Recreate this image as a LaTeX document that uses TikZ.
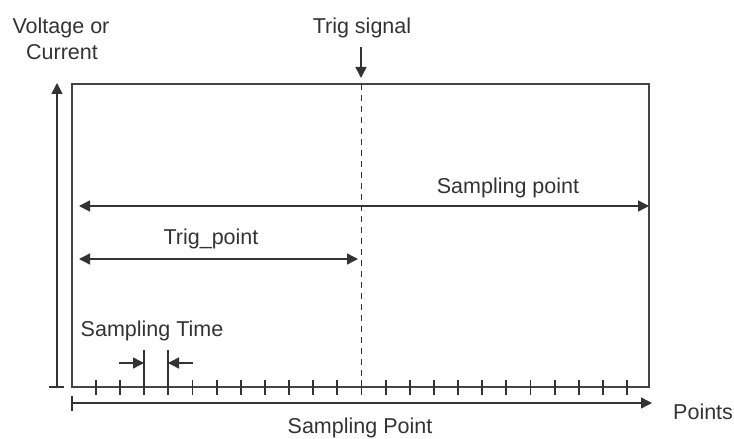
\documentclass[tikz,border=0pt]{standalone}
\usepackage{fontspec}
\setmainfont{Liberation Sans}
\usetikzlibrary{arrows.meta}
\definecolor{ink}{HTML}{333333}
\definecolor{boxc}{HTML}{444444}
\tikzset{
  lbl/.style={inner sep=0pt, anchor=base, text=ink, font=\fontsize{21.5bp}{26bp}\selectfont},
  frame/.style={draw=boxc, line width=1.4bp},
  conn/.style={draw=ink, line width=1.4bp},
  tip/.style={-{Triangle[length=11bp,width=11bp]}},
  dtip/.style={{Triangle[length=11bp,width=11bp]}-{Triangle[length=11bp,width=11bp]}},
  tick/.style={draw=ink, line width=1.9bp},
  trigline/.style={draw=ink, line width=1bp, dash pattern=on 6bp off 5bp},
}
\begin{document}
\begin{tikzpicture}[x=1bp,y=-1bp]
\useasboundingbox (0,0) rectangle (734,439);
% frame
\coordinate (TL) at (72,84);
\coordinate (BR) at (649,387);
\draw[frame] (TL) rectangle (BR);
% y axis
\coordinate (ya) at (57,387);
\coordinate (yb) at (57,83);
\coordinate (yl) at (49,387);
\coordinate (yr) at (64,387);
\draw[conn,tip] (ya) -- (yb);
\draw[tick] (yl) -- (yr);
% x axis
\coordinate (xa) at (72,403);
\coordinate (xb) at (652,403);
\coordinate (xt1) at (72,396);
\coordinate (xt2) at (72,411);
\draw[conn,tip] (xa) -- (xb);
\draw[tick] (xt1) -- (xt2);
% ticks
\foreach \k in {0,...,22}{
  \coordinate (ta\k) at ({96+24.136*\k},380);
  \coordinate (tb\k) at ({96+24.136*\k},395);
  \draw[tick] (ta\k) -- (tb\k);
}
% trig line
\coordinate (tr1) at (361,84);
\coordinate (tr2) at (361,387);
\draw[trigline] (tr1) -- (tr2);
\coordinate (ts1) at (361,47);
\coordinate (ts2) at (361,78);
\draw[conn,tip] (ts1) -- (ts2);
% labels
\node[lbl] (trig) at (362,34) {Trig signal};
\node[lbl] (volt) at (61,34) {Voltage or};
\node[lbl] (curr) at (62,60) {Current};
\node[lbl] (sp) at (508,194) {Sampling point};
\node[lbl] (tp) at (211,245) {Trig\_point};
\node[lbl] (st) at (152,337) {Sampling Time};
\node[lbl] (sP) at (360,433) {Sampling Point};
\node[lbl, anchor=base west] (pts) at (673,419) {Points};
% sampling point arrow
\coordinate (sp1) at (79,206);
\coordinate (sp2) at (649,206);
\draw[conn,dtip] (sp1) -- (sp2);
% trig point arrow
\coordinate (tp1) at (79,259);
\coordinate (tp2) at (358,259);
\draw[conn,dtip] (tp1) -- (tp2);
% sampling time
\coordinate (sa1) at (144,350);
\coordinate (sa2) at (144,387);
\coordinate (sb1) at (168,350);
\coordinate (sb2) at (168,387);
\draw[tick] (sa1) -- (sa2);
\draw[tick] (sb1) -- (sb2);
\coordinate (ar1) at (119,363);
\coordinate (ar2) at (144,363);
\coordinate (al1) at (193,363);
\coordinate (al2) at (168,363);
\draw[conn,tip] (ar1) -- (ar2);
\draw[conn,tip] (al1) -- (al2);
\end{tikzpicture}
\end{document}
